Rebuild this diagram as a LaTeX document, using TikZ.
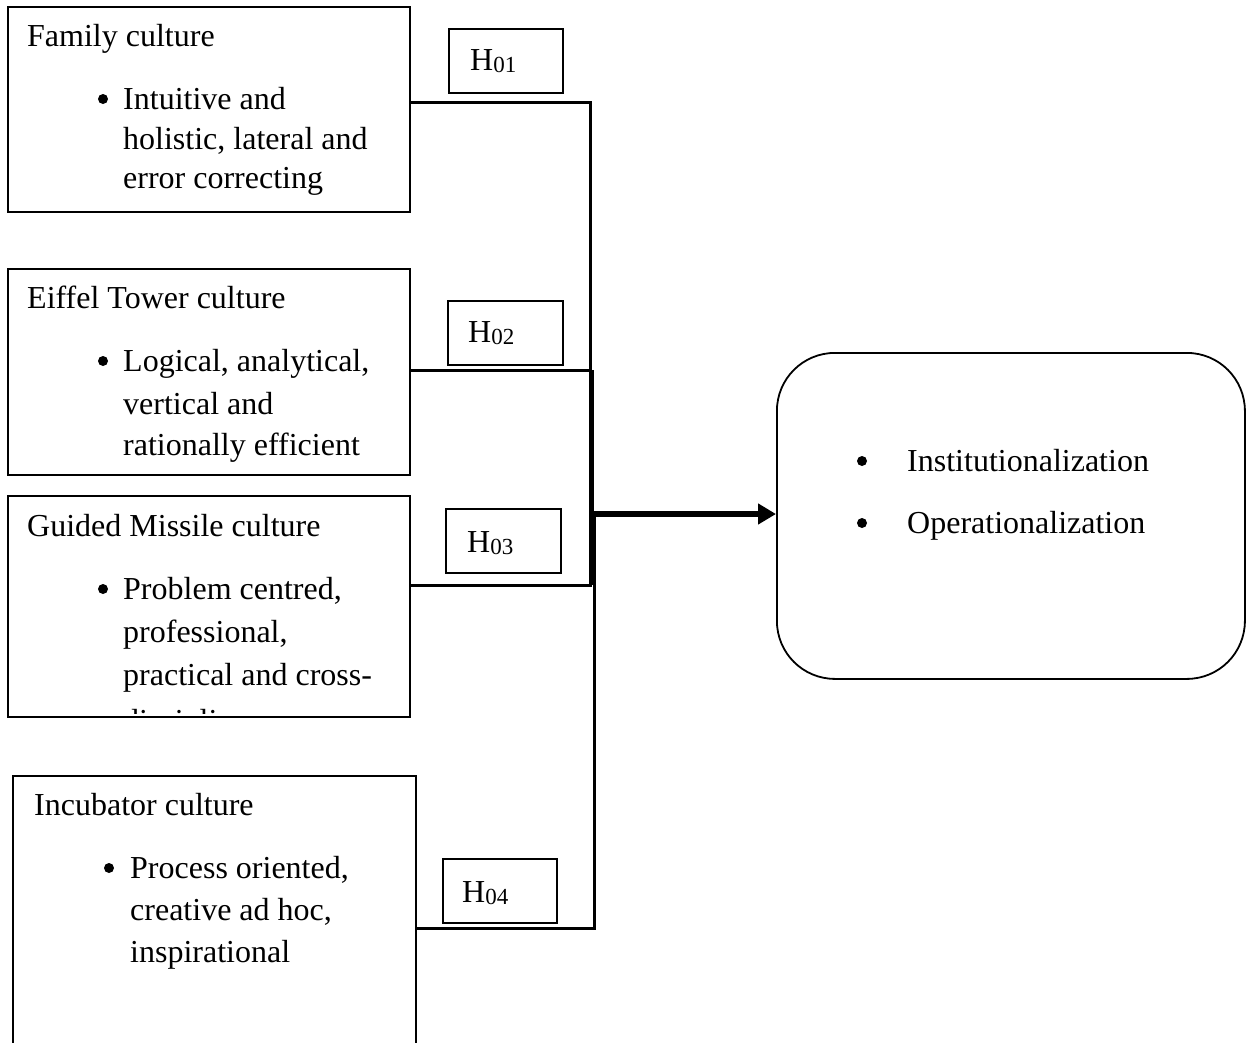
\documentclass[tikz,border=0pt]{standalone}
\usepackage{fontspec}
\setmainfont{Liberation Serif}
\usetikzlibrary{arrows.meta}
\begin{document}
\begin{tikzpicture}[x=1pt,y=-1pt,
  box/.style={draw,line width=2pt,inner sep=0pt,anchor=north west},
  hbox/.style={draw,line width=1.6pt,inner sep=0pt,anchor=north west},
  txt/.style={anchor=base west,inner sep=0pt,font=\fontsize{32}{32}\selectfont},
  conn/.style={line width=3pt},
  bul/.style={fill=black}]
\useasboundingbox (0,0) rectangle (1248,1042);
\clip (0,0) rectangle (1248,1042);
% culture boxes
\node[box,minimum width=402pt,minimum height=205pt] (fam) at (7,6) {};
\node[box,minimum width=402pt,minimum height=206pt] (eif) at (7,268) {};
\node[box,minimum width=402pt,minimum height=221pt] (gui) at (7,495) {};
\node[box,minimum width=403pt,minimum height=290pt] (inc) at (12,775) {};
% outcome box
\node[draw,line width=1.8pt,rounded corners=58pt,minimum width=468pt,minimum height=326pt,anchor=north west,inner sep=0pt] (out) at (776,352) {};
% hypothesis boxes
\node[hbox,minimum width=114pt,minimum height=64pt] (h1) at (448,28) {};
\node[hbox,minimum width=115pt,minimum height=64pt] (h2) at (447,300) {};
\node[hbox,minimum width=115pt,minimum height=64pt] (h3) at (445,508) {};
\node[hbox,minimum width=114pt,minimum height=64pt] (h4) at (442,858) {};
\newcommand{\hlab}[1]{H\raisebox{-2pt}{\fontsize{23}{23}\selectfont #1}}
\node[txt] (h1t) at (470,70) {\hlab{01}};
\node[txt] (h2t) at (468,342) {\hlab{02}};
\node[txt] (h3t) at (467,552) {\hlab{03}};
\node[txt] (h4t) at (462,902) {\hlab{04}};
% texts family
\node[txt] (famT) at (27,46) {Family culture};
\fill[bul] (103,99) circle (5pt);
\node[txt] (fam1) at (123,109) {Intuitive and};
\node[txt] (fam2) at (123,149) {holistic, lateral and};
\node[txt] (fam3) at (123,188) {error correcting};
% eiffel
\node[txt] (eifT) at (27,308) {Eiffel Tower culture};
\fill[bul] (103,361) circle (5pt);
\node[txt] (eif1) at (123,371) {Logical, analytical,};
\node[txt] (eif2) at (123,414) {vertical and};
\node[txt] (eif3) at (123,455) {rationally efficient};
% guided
\node[txt] (guiT) at (27,536) {Guided Missile culture};
\fill[bul] (103,589) circle (5pt);
\node[txt] (gui1) at (123,599) {Problem centred,};
\node[txt] (gui2) at (123,642) {professional,};
\node[txt] (gui3) at (123,685) {practical and cross-};
\begin{scope}
\clip (8,496) rectangle (408,713);
\node[txt] (gui4) at (123,731) {disciplinary};
\end{scope}
% incubator
\node[txt] (incT) at (34,815) {Incubator culture};
\fill[bul] (109,868) circle (5pt);
\node[txt] (inc1) at (130,878) {Process oriented,};
\node[txt] (inc2) at (130,920) {creative ad hoc,};
\node[txt] (inc3) at (130,962) {inspirational};
% outcome text
\fill[bul] (862,461) circle (5pt);
\node[txt] (out1) at (907,471) {Institutionalization};
\fill[bul] (862,523) circle (5pt);
\node[txt] (out2) at (907,533) {Operationalization};
% connectors
\coordinate (j1) at (590,102);
\coordinate (j2) at (592,370);
\coordinate (j3) at (592,585);
\coordinate (j4) at (594,928);
\coordinate (ja) at (592,514);
\draw[conn] (fam.east |- j1) -- (j1) -- (590,585);
\draw[line width=3pt] (eif.east |- j2) -- (j2);
\draw[line width=4.5pt] (j2) -- (j3);
\draw[conn] (gui.east |- j3) -- (j3);
\draw[conn] (inc.east |- j4) -- (j4) -- (594,512);
\draw[line width=6pt,-{Triangle[length=18pt,width=20pt]}] (ja) -- (out.west |- ja);
\end{tikzpicture}
\end{document}
